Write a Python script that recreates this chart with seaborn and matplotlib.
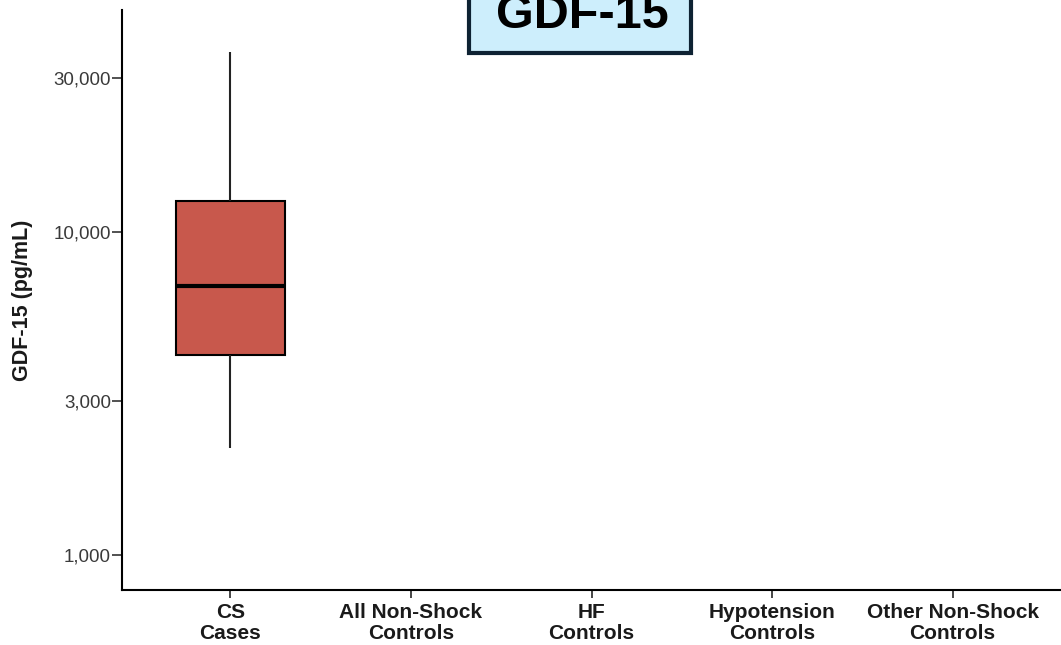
import numpy as np
import pandas as pd
import matplotlib
matplotlib.use("Agg")
import matplotlib.pyplot as plt
from matplotlib.patches import Rectangle
import seaborn as sns

# ---- data ----
groups = ["CS\nCases", "All Non-Shock\nControls", "HF\nControls",
          "Hypotension\nControls", "Other Non-Shock\nControls"]
# five-number summary for CS cases: min, Q1, median, Q3, max (pg/mL)
cs_values = [2140, 4160, 6810, 12470, 36000]
y_ticks = [1000, 3000, 10000, 30000]
y_tick_labels = ["1,000", "3,000", "10,000", "30,000"]

BOX_COLOR = "#C8584C"
TITLE_FACE = "#CDEEFC"
TITLE_EDGE = "#0E2233"

df = pd.DataFrame({"group": [groups[0]] * len(cs_values), "value": cs_values})

sns.set_theme(style="ticks")
plt.rcParams["font.family"] = ["Liberation Sans", "DejaVu Sans"]

W, H = 1061, 645
fig = plt.figure(figsize=(W / 100, H / 100), dpi=100)
ax = fig.add_axes([0.115, 0.085, 0.885, 0.9])

sns.boxplot(data=df, x="group", y="value", order=groups, ax=ax,
            log_scale=True, whis=(0, 100), width=0.6, fliersize=0,
            color=BOX_COLOR, saturation=1,
            boxprops=dict(edgecolor="black", linewidth=1.5),
            medianprops=dict(color="black", linewidth=3),
            whiskerprops=dict(color="#222222", linewidth=1.5),
            capprops=dict(linewidth=0))

ax.set_ylim(780, 48650)
ax.set_xlim(-0.6, 4.6)
ax.set_yticks(y_ticks)
ax.set_yticklabels(y_tick_labels)
ax.yaxis.set_minor_locator(matplotlib.ticker.NullLocator())
ax.tick_params(axis="y", labelsize=13.5, labelcolor="#3a3a3a", color="#333333",
               length=7, width=1.2, pad=1)
ax.tick_params(axis="x", length=6, width=1.2, pad=3)
for lab in ax.get_xticklabels():
    lab.set_fontweight("bold")
    lab.set_fontsize(15)
    lab.set_linespacing(1.15)
    lab.set_color("#1a1a1a")
ax.set_xlabel("")
ax.set_ylabel("GDF-15 (pg/mL)", fontsize=15.5, fontweight="bold", color="#1a1a1a")
ax.yaxis.set_label_coords((33 - 122) / 939, 0.5)
sns.despine(ax=ax)
for s in ["left", "bottom"]:
    ax.spines[s].set_linewidth(1.5)
    ax.spines[s].set_color("black")

# title box, cut by the top edge like the reference
fig.patches.append(Rectangle((469 / W, 1 - 53 / H), (691 - 469) / W, 80 / H,
                             transform=fig.transFigure, facecolor=TITLE_FACE,
                             edgecolor=TITLE_EDGE, linewidth=3, zorder=5))
fig.text(582 / W, 1 - 28 / H, "GDF-15", ha="center", va="baseline",
         fontsize=35, fontweight="bold", color="black", zorder=6)

fig.savefig("out.png", dpi=100)
